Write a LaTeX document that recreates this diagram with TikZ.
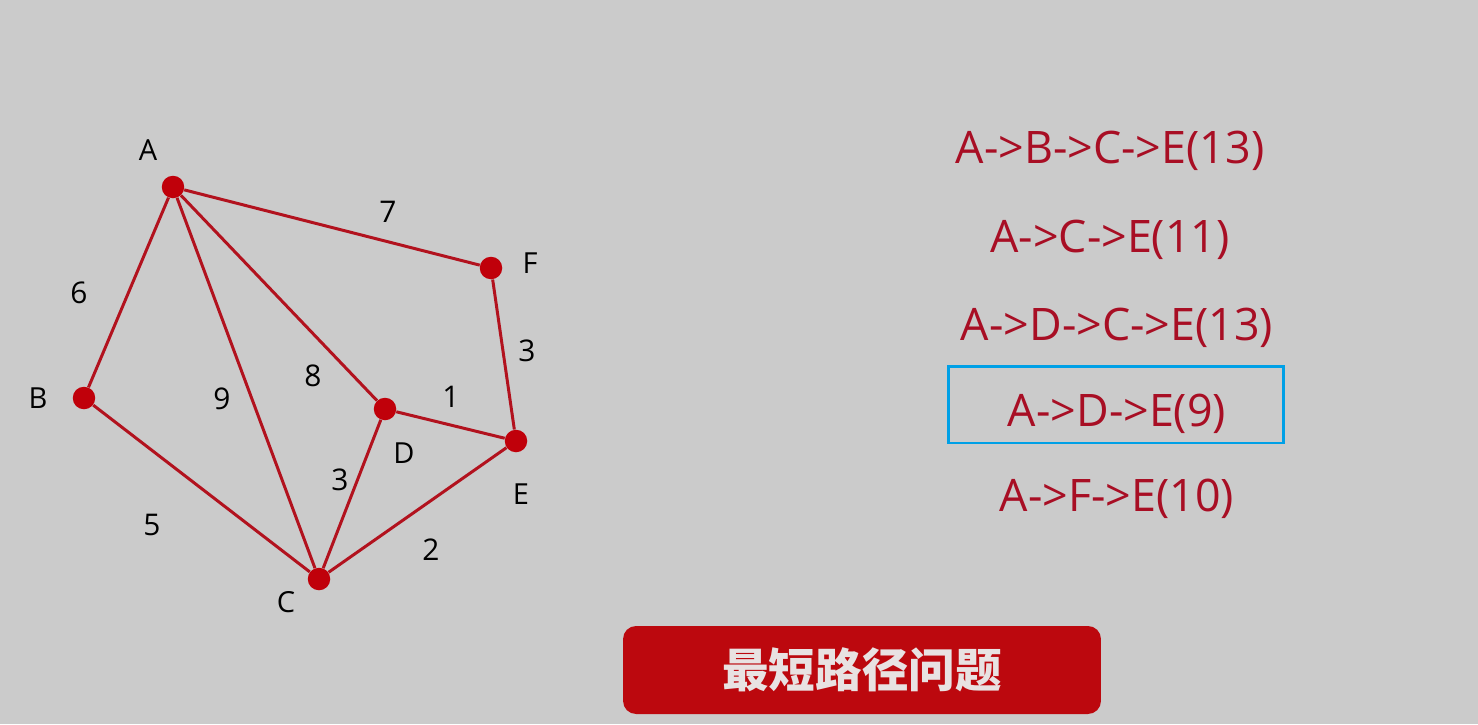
\documentclass[tikz,border=0pt]{standalone}
\usepackage{fontspec}
\setmainfont{Open Sans}
\newfontfamily\cjk{Noto Sans CJK SC}
\usetikzlibrary{positioning}
\definecolor{bgcolor}{RGB}{203,203,203}
\definecolor{edgecolor}{RGB}{178,18,30}
\definecolor{vtxcolor}{RGB}{192,0,10}
\definecolor{routecolor}{RGB}{168,14,36}
\definecolor{selcolor}{RGB}{0,160,230}
\definecolor{bannercolor}{RGB}{188,8,14}
\definecolor{bannertext}{RGB}{232,226,226}
\tikzset{
  vtx/.style={circle, fill=vtxcolor, inner sep=0pt, minimum size=0.45cm},
  edgeln/.style={edgecolor, line width=1.7pt},
  vlabel/.style={font=\fontsize{16.5}{19}\selectfont, text=black, inner sep=0pt},
  wlabel/.style={font=\fontsize{17}{20}\selectfont, text=black, inner sep=0pt},
  route/.style={font=\fontsize{25.5}{30}\selectfont, text=routecolor, inner sep=0pt},
}

\begin{document}
\begin{tikzpicture}[x=0.02cm, y=-0.02cm]
    % Background
    \fill[bgcolor] (0,0) rectangle (1478,724);
    % Vertices
    \node[vtx] (A) at (173,187) {};
    \node[vtx] (B) at (84,398) {};
    \node[vtx] (C) at (319,579) {};
    \node[vtx] (D) at (385,409) {};
    \node[vtx] (E) at (516,441) {};
    \node[vtx] (F) at (491,268) {};
    % Edges
    \draw[edgeln] (A) -- (B);
    \draw[edgeln] (A) -- (C);
    \draw[edgeln] (A) -- (D);
    \draw[edgeln] (A) -- (F);
    \draw[edgeln] (B) -- (C);
    \draw[edgeln] (D) -- (C);
    \draw[edgeln] (D) -- (E);
    \draw[edgeln] (C) -- (E);
    \draw[edgeln] (F) -- (E);
    % Vertex labels
    \node[vlabel] (lA) at (148,150) {A};
    \node[vlabel] (lB) at (38,398) {B};
    \node[vlabel] (lC) at (286,602) {C};
    \node[vlabel] (lD) at (404,453) {D};
    \node[vlabel] (lE) at (521,494) {E};
    \node[vlabel] (lF) at (530,263) {F};
    % Weights
    \node[wlabel] (wAF) at (388,212) {7};
    \node[wlabel] (wAB) at (79,293) {6};
    \node[wlabel] (wAC) at (222,399) {9};
    \node[wlabel] (wAD) at (313,376) {8};
    \node[wlabel] (wFE) at (527,351) {3};
    \node[wlabel] (wDE) at (451,397) {1};
    \node[wlabel] (wDC) at (340,480) {3};
    \node[wlabel] (wBC) at (152,525) {5};
    \node[wlabel] (wCE) at (431,550) {2};
    % Routes
    \node[route] (r1) at (1110,151) {A->B->C->E(13)};
    \node[route] (r2) at (1110,240) {A->C->E(11)};
    \node[route] (r3) at (1117,328) {A->D->C->E(13)};
    \node[route] (r4) at (1117,414) {A->D->E(9)};
    \node[route] (r5) at (1117,499) {A->F->E(10)};
    % Chosen route
    \node[draw=selcolor, line width=1.7pt, minimum width=6.72cm, minimum height=1.54cm] (sel) at (1116,404.5) {};
    % Title banner
    \node[fill=bannercolor, rounded corners=0.26cm, minimum width=9.56cm, minimum height=1.76cm,
          text=bannertext, font=\cjk\bfseries\fontsize{26.5}{30}\selectfont] (title) at (862,670) {最短路径问题};
  \end{tikzpicture}
\end{document}
